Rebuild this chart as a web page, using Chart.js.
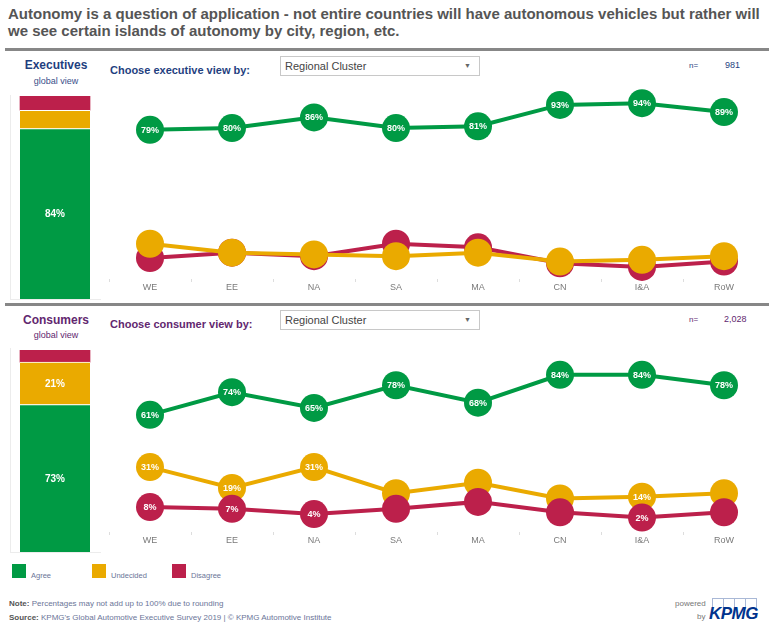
<!DOCTYPE html>
<html>
<head>
<meta charset="utf-8">
<script src="https://cdn.jsdelivr.net/npm/chart.js@4.4.1/dist/chart.umd.min.js"></script>
<style>
body { margin: 0; background: #fff; font-family: "Liberation Sans", Arial, sans-serif; }
#page { position: relative; width: 777px; height: 632px; overflow: hidden; }
.abs { position: absolute; white-space: nowrap; }
.title { left: 8px; top: 5px; font-size: 15px; font-weight: bold; color: #555; line-height: 17px; }
.rule { position: absolute; left: 5px; width: 764px; height: 3px; background: #878787; }
.head { font-size: 12px; font-weight: bold; width: 90px; text-align: center; left: 11px; }
.sub { font-size: 9px; width: 90px; text-align: center; left: 11px; }
.choose { left: 110px; font-size: 11px; font-weight: bold; }
.drop { left: 280px; width: 198px; height: 18px; border: 1px solid #c8c8c8; font-size: 11px; color: #444; line-height: 18px; }
.drop span { position: absolute; left: 4px; }
.drop i { position: absolute; right: 8px; top: 0; font-style: normal; font-size: 7px; color: #666; }
.n { font-size: 8px; }
.frame { position: absolute; border-left: 1px solid #ececec; border-bottom: 1px solid #ececec; }
canvas { position: absolute; }
.sw { position: absolute; width: 14px; height: 14px; }
.lg { font-size: 7.5px; color: #6b7598; }
.foot { left: 9px; font-size: 8px; color: #6b7598; }
.foot b { color: #555; }
</style>
</head>
<body>
<div id="page">
  <div class="abs title">Autonomy is a question of application - not entire countries will have autonomous vehicles but rather will<br>we see certain islands of autonomy by city, region, etc.</div>
  <div class="rule" style="top:48px"></div>

  <div class="abs head" style="top:58px;color:#1f3f7f">Executives</div>
  <div class="abs sub" style="top:76px;color:#3a4f8a">global view</div>
  <div class="abs choose" style="top:64px;color:#1f3f7f">Choose executive view by:</div>
  <div class="abs drop" style="top:56px"><span>Regional Cluster</span><i>&#9660;</i></div>
  <div class="abs n" style="left:689px;top:61px;color:#1f3f7f">n=</div>
  <div class="abs n" style="left:725px;top:60px;font-size:9px;color:#1f3f7f">981</div>
  <div class="frame" style="left:10px;top:95px;width:90px;height:204px"></div>
  <canvas id="execBar" width="90" height="203" style="left:10px;top:96px"></canvas>
  <canvas id="execLine" width="656" height="219" style="left:109px;top:80px"></canvas>

  <div class="rule" style="top:303px"></div>

  <div class="abs head" style="top:313px;color:#62276f">Consumers</div>
  <div class="abs sub" style="top:330px;color:#62276f">global view</div>
  <div class="abs choose" style="top:318px;color:#62276f">Choose consumer view by:</div>
  <div class="abs drop" style="top:310px"><span>Regional Cluster</span><i>&#9660;</i></div>
  <div class="abs n" style="left:689px;top:315px;color:#62276f">n=</div>
  <div class="abs n" style="left:724px;top:314px;font-size:9px;color:#62276f">2,028</div>
  <div class="frame" style="left:10px;top:348px;width:90px;height:204px"></div>
  <canvas id="consBar" width="90" height="202" style="left:10px;top:350px"></canvas>
  <canvas id="consLine" width="656" height="212" style="left:109px;top:340px"></canvas>

  <div class="sw" style="left:12px;top:564px;background:#009a44"></div>
  <div class="abs lg" style="left:31px;top:571px">Agree</div>
  <div class="sw" style="left:92px;top:564px;background:#eaaa00"></div>
  <div class="abs lg" style="left:111px;top:571px">Undecided</div>
  <div class="sw" style="left:172px;top:564px;background:#bc204b"></div>
  <div class="abs lg" style="left:191px;top:571px">Disagree</div>

  <div class="abs foot" style="top:599px"><b>Note:</b> Percentages may not add up to 100% due to rounding</div>
  <div class="abs foot" style="top:613px"><b>Source:</b> KPMG's Global Automotive Executive Survey 2019 | &copy; KPMG Automotive Institute</div>

  <div class="abs" style="left:675px;top:599px;font-size:8px;color:#777">powered</div>
  <div class="abs" style="left:697px;top:612px;font-size:8px;color:#777">by</div>
  <div class="abs" style="left:712px;top:598px;width:10px;height:10px;border:1px solid #a9b8d6;border-bottom:none"></div>
  <div class="abs" style="left:723px;top:598px;width:10px;height:10px;border:1px solid #a9b8d6;border-bottom:none"></div>
  <div class="abs" style="left:734px;top:598px;width:10px;height:10px;border:1px solid #a9b8d6;border-bottom:none"></div>
  <div class="abs" style="left:745px;top:598px;width:10px;height:10px;border:1px solid #a9b8d6;border-bottom:none"></div>
  <div class="abs" style="left:709px;top:604px;font-size:17px;font-weight:bold;font-style:italic;color:#00338d;letter-spacing:-0.5px">KPMG</div>
</div>

<script>
const regions = ['WE', 'EE', 'NA', 'SA', 'MA', 'CN', 'I&A', 'RoW'];

// executives, by regional cluster (%)
const execAgree = [79, 80, 86, 80, 81, 93, 94, 89];
const execUndecided = [15, 10, 9, 8, 10, 5, 6, 8];
const execDisagree = [7, 10, 8, 15, 13, 4, 2, 5];

// consumers, by regional cluster (%)
const consAgree = [61, 74, 65, 78, 68, 84, 84, 78];
const consUndecided = [31, 19, 31, 16, 22, 13, 14, 16];
const consDisagree = [8, 7, 4, 7, 11, 5, 2, 5];

// which points carry a value label
const consUndecidedShown = [true, true, true, false, false, false, true, false];
const consDisagreeShown = [true, true, true, false, false, false, true, false];

// global view (%): agree, undecided, disagree
const execGlobal = [84, 9, 7];
const consGlobal = [73, 21, 6];
const execGlobalShown = [true, false, false];
const consGlobalShown = [true, true, false];

const GREEN = '#009a44';
const ORANGE = '#eaaa00';
const RED = '#bc204b';
const FONT = '"Liberation Sans", Arial, sans-serif';

const valueLabels = {
    id: 'valueLabels',
    afterDatasetDraw(chart, args) {
        const ds = chart.data.datasets[args.index];
        if (!ds.shown) return;
        const ctx = chart.ctx;
        ctx.save();
        ctx.font = 'bold ' + (ds.labelSize || 9) + 'px ' + FONT;
        ctx.fillStyle = '#ffffff';
        ctx.textAlign = 'center';
        ctx.textBaseline = 'middle';
        args.meta.data.forEach((el, i) => {
            if (!ds.shown[i]) return;
            const y = chart.config.type === 'bar' ? (el.y + el.base) / 2 : el.y;
            ctx.fillText(ds.data[i] + '%', el.x, y + 0.5);
        });
        ctx.restore();
    }
};

function lineSet(data, color, order, shown) {
    return {
        data: data,
        borderColor: color,
        backgroundColor: color,
        borderWidth: 4,
        pointRadius: 14,
        pointHoverRadius: 14,
        pointBorderWidth: 0,
        tension: 0,
        clip: false,
        order: order,
        shown: shown
    };
}

function createLine(id, sets, min, max) {
    new Chart(document.getElementById(id), {
        type: 'line',
        data: { labels: regions, datasets: sets },
        options: {
            responsive: false,
            animation: false,
            events: [],
            layout: { padding: 0, autoPadding: false },
            plugins: { legend: { display: false }, tooltip: { enabled: false } },
            scales: {
                x: {
                    offset: true,
                    grid: { offset: true, drawOnChartArea: false, drawTicks: true, tickLength: 3, color: '#dddddd' },
                    border: { display: false },
                    ticks: { color: '#7a7a7a', font: { size: 9, family: FONT }, padding: 0, maxRotation: 0 },
                    afterFit: function(scale) { scale.height = 20; }
                },
                y: { display: false, min: min, max: max }
            }
        },
        plugins: [valueLabels]
    });
}

function createBar(id, values, shown) {
    const colors = [GREEN, ORANGE, RED];
    new Chart(document.getElementById(id), {
        type: 'bar',
        data: {
            labels: [''],
            datasets: values.map((v, i) => ({
                data: [v],
                backgroundColor: colors[i],
                borderColor: '#ffffff',
                borderWidth: i < 2 ? { top: 1, left: 0, right: 0, bottom: 0 } : 0,
                borderSkipped: false,
                barThickness: 70,
                shown: [shown[i]],
                labelSize: 10
            }))
        },
        options: {
            responsive: false,
            animation: false,
            events: [],
            layout: { padding: 0, autoPadding: false },
            plugins: { legend: { display: false }, tooltip: { enabled: false } },
            scales: {
                x: { display: false, stacked: true },
                y: { display: false, stacked: true, min: 0, max: 100 }
            }
        },
        plugins: [valueLabels]
    });
}

createBar('execBar', execGlobal, execGlobalShown);
createBar('consBar', consGlobal, consGlobalShown);

createLine('execLine', [
    lineSet(execAgree, GREEN, 0, execAgree.map(() => true)),
    lineSet(execUndecided, ORANGE, 1, null),
    lineSet(execDisagree, RED, 2, null)
], -4.8, 107);

createLine('consLine', [
    lineSet(consAgree, GREEN, 0, consAgree.map(() => true)),
    lineSet(consUndecided, ORANGE, 2, consUndecidedShown),
    lineSet(consDisagree, RED, 1, consDisagreeShown)
], -6.3, 104);
</script>
</body>
</html>
